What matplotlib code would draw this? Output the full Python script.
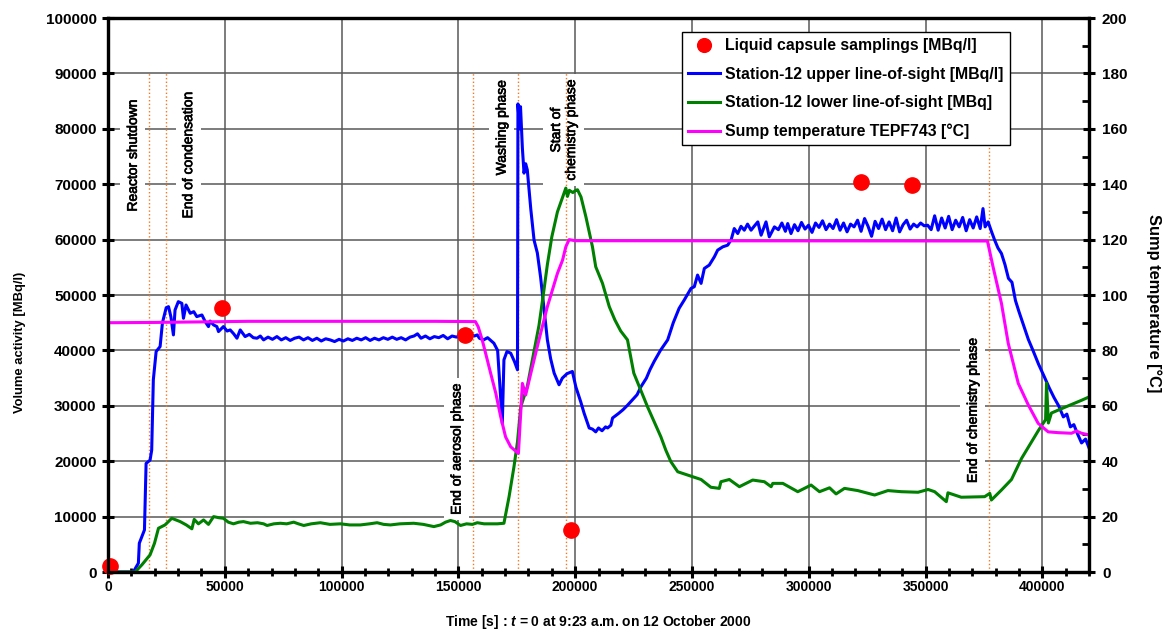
import matplotlib.pyplot as plt
import matplotlib.patheffects as pe
from matplotlib.ticker import MultipleLocator

plt.rcParams['font.family'] = 'Liberation Sans'
plt.rcParams['mathtext.fontset'] = 'custom'
plt.rcParams['mathtext.it'] = 'Liberation Sans:italic:bold'
plt.rcParams['mathtext.rm'] = 'Liberation Sans:bold'

# Station-12 upper line-of-sight [MBq/l]
blue_t = [0, 10800, 13000, 13400, 15600, 16300, 18000, 18700, 19400, 20600, 22300, 23300,
          24900, 25900, 26900, 28000, 28700, 30100, 31600, 32300, 33400, 35200, 36700, 38000,
          40200, 41600, 43000, 43700, 45200, 46600, 47300, 49400, 51000, 52300, 53800, 55200,
          56600, 58700, 60500, 62200, 63800, 65200, 66600, 68500, 70400, 72300, 74200, 76100,
          78000, 79900, 81800, 83700, 85600, 87500, 89400, 91300, 93200, 95100, 97000, 98900,
          100800, 102700, 104600, 106500, 108400, 110300, 112200, 114100, 116000, 117900,
          119800, 121700, 123600, 125500, 127400, 129300, 131000, 132500, 134000, 135900,
          137800, 139700, 141600, 143500, 145400, 147300, 149200, 151000, 153000, 155000,
          156800, 158100, 159000, 160800, 162500, 165200, 166800, 168800, 169500, 170800,
          172400, 174000, 175300, 175500, 176200, 176600, 177400, 178100, 178800, 179500,
          181000, 182400, 183800, 185200, 186700, 188100, 189500, 191000, 193100, 194500,
          196500, 198800, 200300, 202400, 203800, 206000, 207400, 208800, 210000, 211500,
          213000, 213900, 215300, 216000, 218500, 220500, 222400, 225200, 226500, 228100,
          230500, 232000, 233800, 236500, 239600, 242000, 244500, 246700, 249600, 251000,
          252400, 253900, 255300, 257400, 259600, 261000, 263200, 265300, 266800, 268100,
          269600, 271000, 272400, 273800, 275300, 276800, 278200, 279600, 281700, 283100,
          285300, 287000, 288500, 290000, 291000, 292400, 293900, 295400, 296900, 298400,
          299900, 301400, 302900, 304400, 305900, 307400, 308900, 310400, 311900, 313400,
          314900, 316400, 317900, 319400, 320900, 322400, 323900, 325400, 326900, 328400,
          329900, 331400, 332900, 334400, 335900, 337400, 338900, 340400, 341900, 343400,
          344900, 346400, 347900, 349400, 350900, 352400, 353900, 355400, 356900, 358400,
          359900, 361400, 362900, 364400, 365900, 367400, 368900, 370400, 371900, 373400,
          374600, 375500, 376800, 378200, 379600, 381000, 382500, 384000, 385500, 387000,
          388500, 390000, 392000, 394000, 396000, 398400, 400900, 403000, 405000, 407000,
          409000, 410500, 412000, 413500, 415000, 416800, 418500, 420000]
blue_v = [0, 0, 1600, 5200, 7600, 19600, 20200, 22000, 34700, 39800, 40700, 45000,
          47700, 47900, 46100, 42800, 47300, 48800, 48500, 45800, 48200, 46700, 47000, 46100,
          46400, 45200, 44300, 45300, 44600, 44300, 43400, 44300, 43500, 43700, 43000, 42200,
          43700, 42500, 42900, 42300, 42200, 42600, 41900, 42400, 42000, 42500, 41900, 42300,
          41800, 42200, 42400, 41900, 42300, 41800, 42200, 41700, 42100, 41900, 41600, 42000,
          41700, 42100, 41800, 42200, 41900, 42300, 41800, 42200, 41900, 42300,
          42000, 42400, 42000, 42300, 41900, 42400, 42600, 43000, 42200, 42600,
          42100, 42500, 42300, 42700, 42100, 42600, 42400, 42800, 42500, 43000,
          42600, 42800, 42200, 41900, 42300, 41300, 40000, 26800, 38300, 39800,
          39500, 38000, 36500, 84500, 80000, 84000, 76500, 72000, 73700, 72600,
          65500, 59900, 57600, 53200, 47300, 41900, 38500, 35900, 33800, 35000,
          35800, 36200, 33400, 30700, 28700, 26000, 25800, 25300, 26000, 25500,
          26200, 26000, 26500, 27800, 28600, 29300, 30100, 31400, 32000, 33400,
          35000, 36500, 38000, 40000, 41900, 45000, 47600, 49100, 51200, 51500,
          53600, 52100, 54800, 55400, 56900, 58100, 58700, 59000, 60000, 62000,
          61100, 62400, 61700, 62800, 61700, 62500, 63200, 60800, 63200, 60500,
          62300, 61800, 63000, 61500, 62900, 61100, 62700, 61600, 63100, 61900,
          62600, 61300, 63000, 62200, 63400, 61800, 62800, 62000, 63600, 61700,
          63000, 61400, 62800, 62300, 63500, 61500, 63800, 62400, 60600, 63300,
          62000, 63700, 61800, 63200, 61600, 63900, 61400, 62700, 63500, 61900,
          62800, 62300, 63000, 62500, 62600, 61800, 64300, 61700, 63900, 62100,
          64200, 61800, 63500, 62300, 64000, 61600, 63600, 62100, 64100, 62000,
          65600, 62300, 63200, 61500, 59900, 58500, 57500, 55500, 53000, 52300,
          49000, 47000, 44500, 42000, 40000, 37500, 35200, 33200, 31500, 30000,
          28000, 28500, 26200, 26600, 25000, 23300, 24000, 22400]

# Station-12 lower line-of-sight [MBq]
green_t = [0, 11600, 14500, 18000, 19900, 21600, 24400, 27300, 30900, 33500, 35900, 36900,
           38700, 40900, 43000, 45200, 47500, 49400, 51500, 53700, 56000, 58000, 61000, 64000,
           66600, 68100, 71000, 73800, 76500, 79500, 81500, 83800, 87000, 90900, 95000, 99500,
           103500, 108000, 112000, 115200, 118000, 120900, 125000, 130900, 135000, 139500,
           142400, 144500, 146600, 148500, 150900, 153500, 156000, 158100, 161000, 163800,
           166700, 169500, 171700, 173800, 175300, 176700, 179500, 182000, 184500, 186500,
           188100, 190000, 192400, 194500, 196000, 196700, 197500, 199000, 200300, 201000,
           202500, 204600, 207400, 208800, 211700, 214600, 217000, 219500, 222400, 225100,
           231000, 236700, 238800, 241000, 243900, 249600, 253900, 258100, 261700, 262400,
           266000, 270300, 276000, 281000, 283900, 284600, 288900, 295300, 301000, 304600,
           308900, 311700, 315300, 321000, 328200, 333900, 339600, 346800, 351100, 353900,
           358900, 359600, 365300, 375300, 377500, 378200, 382500, 386800, 391100, 394100,
           398400, 401400, 401800, 402600, 403900, 410000, 416800, 420000]
green_v = [0, 0, 1300, 3100, 5200, 7900, 8500, 9700, 9100, 8500, 7800, 9500,
           8700, 9400, 8600, 10000, 9800, 9700, 9000, 8700, 9000, 9100, 8800, 8900,
           8700, 8400, 8700, 8800, 8700, 9000, 8700, 8400, 8700, 8900, 8600, 8700,
           8500, 8500, 8700, 8900, 8600, 8500, 8700, 8800, 8600, 8200,
           8500, 9000, 9300, 9100, 8400, 8700, 8600, 8900, 8700, 8700,
           8700, 8800, 13600, 19000, 23500, 29800, 33500, 39000, 44500, 50500,
           55500, 60500, 65000, 67500, 69300, 67800, 68900, 68500, 68900, 69000,
           67700, 64100, 58700, 55100, 52100, 47900, 45500, 43500, 41900, 35900,
           29800, 24400, 22000, 19900, 18100, 17300, 16700, 15300, 15100, 16300,
           16700, 15400, 16600, 16300, 15400, 16000, 16000, 14500, 15700, 14500,
           15200, 14100, 15100, 14700, 13900, 14700, 14500, 14400, 14900, 14500,
           12700, 14300, 13500, 13600, 14200, 13000, 14800, 16700, 20500, 22600,
           25600, 27500, 34100, 26900, 28700, 29800, 31000, 31600]

# Sump temperature TEPF743 [°C]
temp_t = [0, 20000, 40000, 60000, 100000, 140000, 157300, 158500, 160200, 162400, 163800,
          166000, 168100, 170200, 172400, 175700, 177400, 178800, 181000, 183100, 184500,
          188100, 192400, 194600, 196000, 197400, 200000, 376500, 378900, 382500, 385400,
          389700, 394000, 398200, 402500, 407000, 412500, 414600, 416800, 420000]
temp_v = [90.0, 90.1, 90.3, 90.5, 90.5, 90.5, 90.4, 88.5, 83.8, 76.5, 71.8,
          64.6, 56.1, 48.8, 45.2, 42.8, 68.1, 63.9, 71.7, 79.0, 83.8,
          95.8, 107.8, 112.6, 117.4, 120.0, 119.6, 119.5, 110.2, 97.0, 82.6,
          68.1, 60.3, 53.7, 50.6, 50.3, 50.1, 50.9, 50.1, 49.5]

# Liquid capsule samplings [MBq/l]
sample_t = [1000, 49000, 153000, 198300, 322300, 344000]
sample_v = [1000, 47700, 42800, 7500, 70400, 69900]

# phase markers
event_t = [17600, 25000, 156200, 175500, 196000, 377200]
event_labels = ['Reactor shutdown', 'End of condensation', 'End of aerosol phase',
                'Washing phase', 'Start of\nchemistry phase', 'End of chemistry phase']
label_x = [17600 - 7000, 25000 + 9300, 156200 - 7000, 175500 - 7000, 196000 - 1000,
           377200 - 7000]
label_y = [75200, 75300, 22200, 80200, 79800, 29200]

fig = plt.figure(figsize=(11.64, 6.32), dpi=100)
ax = fig.add_axes([0.0928, 0.0949, 0.8428, 0.8766])
ax2 = ax.twinx()

ax.set_xlim(0, 420000)
ax.set_ylim(0, 100000)
ax2.set_ylim(0, 200)
ax.xaxis.set_major_locator(MultipleLocator(50000))
ax.xaxis.set_minor_locator(MultipleLocator(10000))
ax.yaxis.set_major_locator(MultipleLocator(10000))
ax2.yaxis.set_major_locator(MultipleLocator(20))
ax2.yaxis.set_minor_locator(MultipleLocator(10))

ax.set_axisbelow(True)
ax.grid(True, which='major', color='#585858', linewidth=1.1)

for a in (ax, ax2):
    for sp in a.spines.values():
        sp.set_linewidth(2.3)
ax.tick_params(axis='x', which='major', direction='inout', length=8.5, width=2.2,
               labelsize=10, pad=1.5)
ax.tick_params(axis='x', which='minor', direction='inout', length=6, width=2.0)
ax.tick_params(axis='y', which='major', direction='inout', length=8.5, width=2.2,
               labelsize=11, pad=4)
ax2.tick_params(which='major', direction='inout', length=8.5, width=2.2, labelsize=11, pad=5)
ax2.tick_params(which='minor', direction='in', length=5, width=2.0)
for lab in ax.get_xticklabels() + ax.get_yticklabels() + ax2.get_yticklabels():
    lab.set_fontweight('bold')

# phase labels with white boxes over the grid, dotted markers above them
for x, y, s in zip(label_x, label_y, event_labels):
    ax.text(x, y, s, rotation=90, ha='center', va='center', fontsize=10,
            linespacing=1.1, zorder=1.5,
            path_effects=[pe.withStroke(linewidth=0.5, foreground='black')],
            bbox=dict(facecolor='white', edgecolor='none', pad=4))
ax.vlines(event_t, 0, 90000, colors='#F07820', linestyles=':', linewidth=1.0, zorder=2)

ax.plot(blue_t, blue_v, color='#0000FF', lw=2.2, zorder=3,
        label='Station-12 upper line-of-sight [MBq/l]')
ax.plot(green_t, green_v, color='#008000', lw=2.2, zorder=3,
        label='Station-12 lower line-of-sight [MBq]')
ax.plot(sample_t, sample_v, 'o', color='#FF0000', ms=11, zorder=4, clip_on=False,
        label='Liquid capsule samplings [MBq/l]')
ax2.plot(temp_t, temp_v, color='#FF00FF', lw=2.2,
         label='Sump temperature TEPF743 [°C]')

ax.set_ylabel('Volume activity [MBq/l)', fontsize=9.4, fontweight='bold')
ax.yaxis.set_label_coords(-0.084, 0.414)
ax2.set_ylabel('Sump temperature [°C]', fontsize=11.8, fontweight='bold', rotation=270,
               va='bottom')
ax2.yaxis.set_label_coords(1.058, 0.486)
ax.set_xlabel(r'Time [s] : $\mathit{t}$ = $\mathit{0}$ at 9:23 a.m. on 12 October 2000',
              fontsize=10, fontweight='bold', labelpad=14)

h1, l1 = ax.get_legend_handles_labels()
h2, l2 = ax2.get_legend_handles_labels()
handles = [h1[2], h1[0], h1[1], h2[0]]
labels = [l1[2], l1[0], l1[1], l2[0]]
leg = ax2.legend(handles, labels, loc='upper right', bbox_to_anchor=(0.919, 0.975),
                 borderaxespad=0, fancybox=False, framealpha=1, edgecolor='black',
                 prop={'weight': 'bold', 'size': 11.4}, labelspacing=0.85,
                 handlelength=2.0, handletextpad=0.3, markerscale=0.9)
leg.get_frame().set_linewidth(1.0)

fig.savefig('out.png', dpi=100)
